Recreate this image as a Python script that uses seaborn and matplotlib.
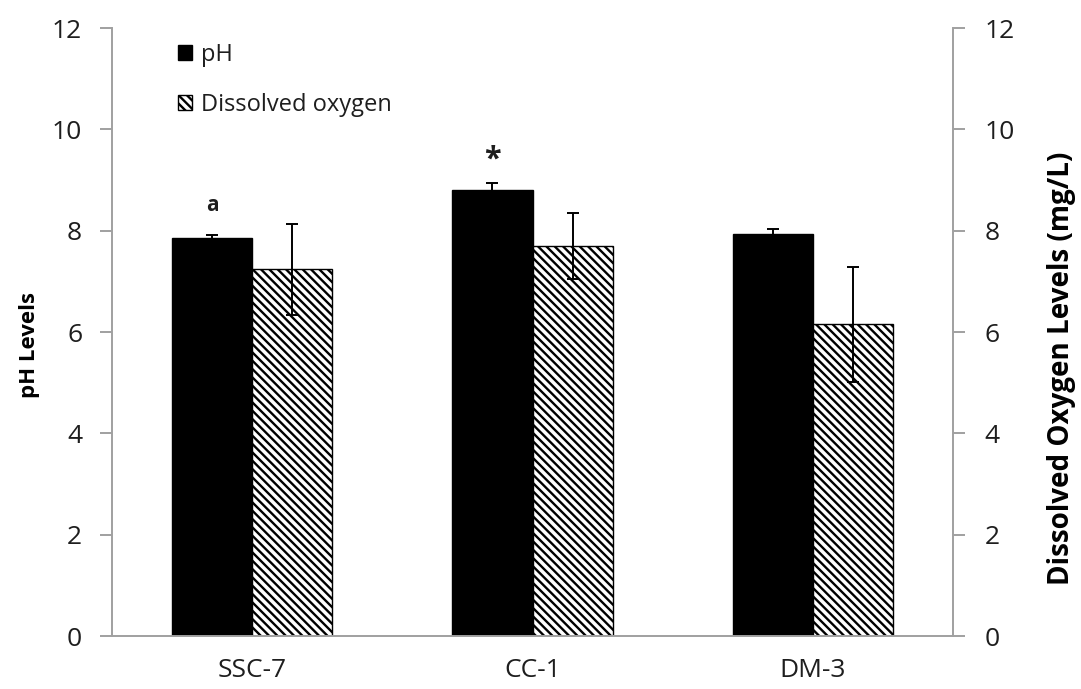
import numpy as np
import pandas as pd
import seaborn as sns
import matplotlib.pyplot as plt
from matplotlib.patches import Patch

sites = ["SSC-7", "CC-1", "DM-3"]
ph_mean = [7.85, 8.80, 7.94]
ph_err = [0.06, 0.15, 0.09]
do_mean = [7.24, 7.70, 6.15]
do_err = [0.90, 0.65, 1.13]
marks = ["a", "*", ""]

df = pd.DataFrame({
    "site": sites * 2,
    "value": ph_mean + do_mean,
    "kind": ["pH"] * 3 + ["Dissolved oxygen"] * 3,
})

sns.set_style("white")
plt.rcParams['font.family'] = ['Open Sans', 'DejaVu Sans']
plt.rcParams['hatch.linewidth'] = 1.7
plt.rcParams['text.color'] = '#1e1e1e'
plt.rcParams['axes.labelcolor'] = '#000000'
plt.rcParams['xtick.labelcolor'] = '#1e1e1e'
plt.rcParams['ytick.labelcolor'] = '#1e1e1e'

grey = "#a0a0a0"

fig = plt.figure(figsize=(10.81, 6.89), dpi=100)
ax = fig.add_axes([0.1036, 0.0769, 0.778, 0.8824])

sns.barplot(data=df, x="site", y="value", hue="kind", palette=["black", "white"],
            width=0.572, errorbar=None, edgecolor="black", linewidth=1, ax=ax,
            legend=False)

for bar in ax.containers[1]:
    bar.set_hatch("\\\\\\\\")

errs = [ph_err, do_err]
for cont, e in zip(ax.containers, errs):
    xs = [b.get_x() + b.get_width() / 2 for b in cont]
    ys = [b.get_height() for b in cont]
    ax.errorbar(xs, ys, yerr=e, fmt="none", ecolor="black", elinewidth=1.4,
                capsize=4.5, capthick=1.4)

# significance marks above the pH bars
for b, m in zip(ax.containers[0], marks):
    if m == "a":
        ax.text(b.get_x() + b.get_width() / 2, b.get_height() + 0.65, m,
                ha="center", va="center", fontsize=15, fontweight="bold")
    elif m == "*":
        ax.text(b.get_x() + b.get_width() / 2, b.get_height() + 0.6, m,
                ha="center", va="center", fontsize=22, fontweight="bold")

ax.set_xlim(-0.5, 2.5)
ax.set_ylim(0, 12)
ax.set_yticks(range(0, 13, 2))
ax.set_xticks([-0.5, 0.5, 1.5, 2.5], minor=False)
ax.set_xticklabels([])
ax.set_xticks([0, 1, 2], minor=True)
ax.set_xticklabels(sites, minor=True, fontsize=19)
ax.tick_params(axis="x", which="minor", length=0, pad=16)
ax.tick_params(axis="x", which="major", direction="out", length=8, color=grey, width=1.4)
ax.tick_params(axis="y", direction="out", length=8.5, color=grey, width=1.4,
               labelsize=19, pad=13)
ax.set_xlabel("")
ax.set_ylabel("pH Levels", fontsize=16, fontweight="bold")
ax.yaxis.set_label_coords(-0.086, 0.479)

for s in ["left", "bottom"]:
    ax.spines[s].set_color(grey)
    ax.spines[s].set_linewidth(1.4)
ax.spines["top"].set_visible(False)
ax.spines["right"].set_visible(False)

ax2 = ax.twinx()
ax2.set_ylim(0, 12)
ax2.set_yticks(range(0, 13, 2))
ax2.tick_params(axis="y", direction="out", length=8.5, color=grey, width=1.4,
                labelsize=19, pad=14)
ax2.set_ylabel("Dissolved Oxygen Levels (mg/L)", fontsize=20, fontweight="bold")
ax2.yaxis.set_label_coords(1.112, 0.44)
for s in ["left", "top", "bottom"]:
    ax2.spines[s].set_visible(False)
ax2.spines["right"].set_color(grey)
ax2.spines["right"].set_linewidth(1.4)

handles = [Patch(facecolor="black", edgecolor="black", label="pH"),
           Patch(facecolor="white", edgecolor="black", hatch="\\\\\\\\", label="Dissolved oxygen")]
ax.legend(handles=handles, loc="upper left", bbox_to_anchor=(0.053, 1.011), frameon=False,
          fontsize=17, handlelength=0.6, handleheight=0.6, handletextpad=0.4,
          labelspacing=1.1)

fig.savefig("out.png", dpi=100)
